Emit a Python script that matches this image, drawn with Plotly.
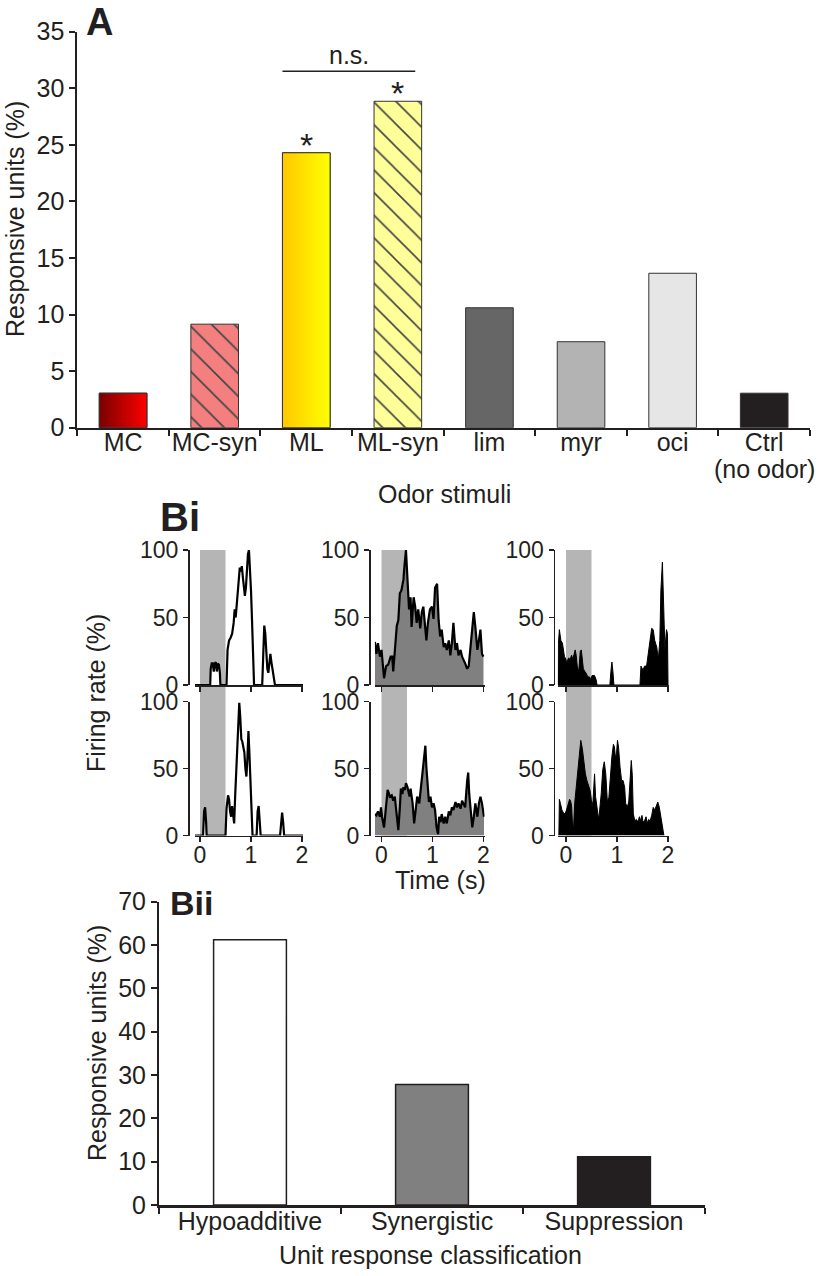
import plotly.graph_objects as go

W, H = 828, 1276
INK = "#231f20"
FONT = "Liberation Sans, Arial, Helvetica, sans-serif"


def px_x(p):
    return p / W


def px_y(p):
    return 1 - p / H


# ---------------- Panel A data ----------------
odor_categories = ["MC", "MC-syn", "ML", "ML-syn", "lim", "myr", "oci", "Ctrl"]
odor_responsive_pct = [3.05, 9.15, 24.3, 28.85, 10.6, 7.6, 13.65, 3.05]
odor_colors = ["#c00000", "#f47f7f", "#ffe000", "#ffff99", "#666666", "#b3b3b3", "#e6e6e6", "#231f20"]
odor_patterns = ["", "\\", "", "\\", "", "", "", ""]
gradient_bars = {"MC": ["#7a0000", "#ff0000"], "ML": ["#ffc800", "#ffff00"]}
significant_odors = ["ML", "ML-syn"]
ns_pair = ["ML", "ML-syn"]

# ---------------- Panel Bi data (time s, firing rate %) ----------------
hypo_top = [(-0.10, 0), (0.20, 0), (0.21, 12), (0.23, 16), (0.25, 16), (0.27, 10), (0.29, 16), (0.31, 17),
            (0.33, 10), (0.35, 16), (0.37, 15), (0.39, 9), (0.40, 0), (0.52, 0), (0.54, 26), (0.57, 33),
            (0.60, 35), (0.63, 38), (0.66, 46), (0.68, 56), (0.70, 50), (0.72, 60), (0.74, 68), (0.76, 78),
            (0.78, 87), (0.80, 84), (0.82, 88), (0.84, 80), (0.86, 70), (0.88, 66), (0.90, 72), (0.92, 88),
            (0.94, 97), (0.96, 100), (0.98, 88), (1.00, 70), (1.02, 48), (1.04, 25), (1.06, 0), (1.22, 0),
            (1.24, 30), (1.26, 44), (1.28, 38), (1.30, 26), (1.32, 12), (1.34, 9), (1.36, 20), (1.38, 23),
            (1.40, 17), (1.42, 12), (1.45, 5), (1.47, 0), (2.02, 0)]
hypo_bottom = [(-0.10, 0), (0.06, 0), (0.08, 18), (0.10, 21), (0.12, 10), (0.13, 0), (0.50, 0), (0.52, 20),
               (0.55, 30), (0.57, 27), (0.59, 18), (0.61, 14), (0.63, 22), (0.65, 12), (0.67, 9), (0.69, 30),
               (0.71, 50), (0.73, 66), (0.75, 85), (0.77, 99), (0.79, 88), (0.81, 72), (0.83, 70), (0.85, 64),
               (0.87, 62), (0.89, 50), (0.91, 44), (0.93, 58), (0.95, 78), (0.97, 60), (0.99, 35), (1.01, 15),
               (1.03, 0), (1.11, 0), (1.13, 18), (1.15, 22), (1.17, 10), (1.19, 0), (1.57, 0), (1.59, 13),
               (1.61, 17), (1.63, 10), (1.65, 0), (2.02, 0)]
syn_top = [(-0.13, 32), (-0.10, 23), (-0.07, 31), (-0.03, 21), (0.00, 26), (0.03, 11), (0.05, 5), (0.09, 14),
           (0.13, 15), (0.18, 21), (0.21, 21), (0.23, 10), (0.26, 26), (0.30, 44), (0.33, 48), (0.36, 68),
           (0.39, 70), (0.43, 78), (0.45, 88), (0.48, 100), (0.51, 78), (0.54, 56), (0.57, 65), (0.59, 43),
           (0.63, 65), (0.66, 58), (0.69, 46), (0.72, 56), (0.76, 42), (0.79, 54), (0.82, 58), (0.84, 49),
           (0.88, 33), (0.91, 46), (0.95, 56), (0.99, 58), (1.02, 49), (1.05, 72), (1.09, 75), (1.12, 48),
           (1.15, 36), (1.18, 41), (1.22, 28), (1.25, 31), (1.28, 26), (1.32, 33), (1.35, 22), (1.38, 31),
           (1.41, 46), (1.45, 26), (1.48, 31), (1.51, 22), (1.55, 26), (1.58, 21), (1.61, 19), (1.64, 16),
           (1.68, 12), (1.71, 14), (1.74, 26), (1.78, 43), (1.81, 54), (1.84, 43), (1.88, 26), (1.91, 33),
           (1.94, 41), (1.97, 23), (2.00, 21)]
syn_bottom = [(-0.13, 16), (-0.10, 15), (-0.07, 18), (-0.03, 14), (-0.01, 21), (0.01, 14), (0.05, 6),
              (0.08, 21), (0.12, 34), (0.14, 32), (0.16, 29), (0.20, 30), (0.23, 26), (0.26, 29), (0.30, 14),
              (0.33, 4), (0.36, 21), (0.38, 35), (0.41, 31), (0.43, 36), (0.46, 34), (0.48, 39), (0.51, 36),
              (0.55, 29), (0.57, 35), (0.61, 24), (0.64, 9), (0.67, 21), (0.70, 29), (0.74, 24), (0.77, 36),
              (0.80, 46), (0.83, 59), (0.86, 67), (0.88, 51), (0.91, 29), (0.93, 25), (0.96, 29), (0.99, 21),
              (1.02, 24), (1.05, 19), (1.08, 6), (1.11, 1), (1.13, 14), (1.16, 10), (1.18, 16), (1.22, 9),
              (1.25, 14), (1.28, 9), (1.32, 18), (1.35, 15), (1.38, 21), (1.41, 19), (1.45, 25), (1.48, 21),
              (1.51, 24), (1.55, 20), (1.58, 26), (1.61, 24), (1.64, 21), (1.68, 41), (1.70, 47), (1.72, 31),
              (1.75, 19), (1.78, 6), (1.81, 14), (1.84, 24), (1.88, 14), (1.91, 24), (1.94, 29), (1.97, 24),
              (2.01, 14)]
supp_top = [(-0.16, 0), (-0.15, 30), (-0.13, 41), (-0.10, 33), (-0.07, 31), (-0.03, 21), (0.00, 19),
            (0.01, 16), (0.05, 20), (0.08, 19), (0.11, 22), (0.13, 19), (0.16, 23), (0.18, 26), (0.20, 22),
            (0.22, 14), (0.25, 10), (0.28, 25), (0.30, 26), (0.32, 19), (0.34, 12), (0.37, 10), (0.39, 9),
            (0.43, 6), (0.46, 6), (0.49, 4), (0.51, 7), (0.56, 7), (0.59, 4), (0.61, 0), (0.86, 0),
            (0.88, 10), (0.90, 17), (0.92, 10), (0.94, 0), (1.45, 0), (1.47, 14), (1.51, 11), (1.54, 14),
            (1.58, 14), (1.61, 23), (1.64, 33), (1.68, 42), (1.71, 41), (1.74, 33), (1.78, 28), (1.81, 19),
            (1.84, 33), (1.86, 70), (1.89, 91), (1.91, 70), (1.94, 26), (1.97, 41), (1.99, 38), (2.00, 0)]
supp_bottom = [(-0.14, 0), (-0.13, 27), (-0.11, 24), (-0.08, 19), (-0.05, 17), (-0.02, 16), (0.01, 19),
               (0.04, 24), (0.07, 27), (0.09, 26), (0.11, 22), (0.13, 6), (0.15, 7), (0.17, 24), (0.20, 36),
               (0.23, 51), (0.26, 64), (0.29, 71), (0.32, 65), (0.35, 54), (0.38, 46), (0.41, 41), (0.44, 37),
               (0.47, 34), (0.49, 29), (0.51, 21), (0.53, 26), (0.56, 46), (0.58, 29), (0.61, 21), (0.64, 12),
               (0.66, 19), (0.69, 31), (0.72, 49), (0.75, 55), (0.78, 46), (0.81, 26), (0.84, 28), (0.87, 44),
               (0.90, 59), (0.93, 68), (0.95, 66), (0.97, 58), (0.99, 61), (1.01, 71), (1.03, 66), (1.06, 51),
               (1.09, 41), (1.12, 41), (1.15, 36), (1.17, 24), (1.20, 21), (1.23, 25), (1.25, 35), (1.28, 56),
               (1.30, 45), (1.32, 16), (1.35, 11), (1.38, 12), (1.41, 10), (1.44, 14), (1.46, 11), (1.49, 15),
               (1.51, 10), (1.54, 11), (1.57, 14), (1.59, 9), (1.62, 12), (1.65, 11), (1.68, 15), (1.71, 21),
               (1.74, 19), (1.77, 22), (1.80, 25), (1.83, 21), (1.86, 14), (1.89, 5), (1.92, 0)]
stimulus_window = [0.0, 0.5]
time_ticks = [0, 1, 2]
rate_ticks = [0, 50, 100]

# ---------------- Panel Bii data ----------------
class_categories = ["Hypoadditive", "Synergistic", "Suppression"]
class_responsive_pct = [61.2, 27.8, 11.15]
class_colors = ["#ffffff", "#808080", "#231f20"]

fig = go.Figure()
annotations = []
shapes = []

# ---------------- Panel A ----------------
BAR_W = 0.52
xi = list(range(len(odor_categories)))
fig.add_trace(go.Bar(
    x=xi, y=odor_responsive_pct, width=BAR_W,
    marker=dict(color=odor_colors, line=dict(color="#333333", width=1),
                pattern=dict(shape=odor_patterns, fillmode="overlay", fgcolor="#000000", fgopacity=1,
                             bgcolor=odor_colors, size=16, solidity=0.1)),
    xaxis="x", yaxis="y", hoverinfo="skip", showlegend=False))
for cat, (c0, c1) in gradient_bars.items():
    i = odor_categories.index(cat)
    v = odor_responsive_pct[i]
    fig.add_trace(go.Scatter(
        x=[i - BAR_W / 2, i + BAR_W / 2, i + BAR_W / 2, i - BAR_W / 2, i - BAR_W / 2],
        y=[0, 0, v, v, 0], mode="lines", fill="toself",
        fillgradient=dict(type="horizontal", colorscale=[[0, c0], [1, c1]]),
        line=dict(color="#333333", width=1), xaxis="x", yaxis="y",
        hoverinfo="skip", showlegend=False))

axis_common = dict(showgrid=False, zeroline=False, linecolor=INK, tickcolor=INK, automargin=False,
                   tickfont=dict(size=25, color=INK, family=FONT), fixedrange=True)
layout_axes = {}
layout_axes["xaxis"] = dict(axis_common, domain=[px_x(77.3), px_x(810)], range=[-0.5, 7.5], anchor="y",
                            tickmode="array", tickvals=xi, ticktext=odor_categories, ticks="",
                            ticklabelstandoff=-9, showline=True, linewidth=2,
                            minor=dict(tickmode="array", tickvals=[k - 0.5 for k in range(9)],
                                       ticks="outside", ticklen=6, tickwidth=2, tickcolor=INK))
layout_axes["yaxis"] = dict(axis_common, domain=[px_y(427.7), px_y(31.7)], range=[0, 35], anchor="x",
                            tickmode="linear", tick0=0, dtick=5, ticks="outside", ticklen=6, tickwidth=2,
                            showline=True, linewidth=2)

# significance
for cat in significant_odors:
    i = odor_categories.index(cat)
    annotations.append(dict(x=i, y=odor_responsive_pct[i], xref="x", yref="y", text="*",
                            showarrow=False, yanchor="bottom", yshift=-13,
                            font=dict(size=34, color=INK, family=FONT)))
i0 = odor_categories.index(ns_pair[0])
i1 = odor_categories.index(ns_pair[1])
ns_y = 31.5
shapes.append(dict(type="line", xref="x", yref="y", x0=i0 - BAR_W / 2, x1=i1 + 0.19, y0=ns_y, y1=ns_y,
                   line=dict(color=INK, width=1.5)))
annotations.append(dict(x=(i0 + i1) / 2 - 0.03, y=ns_y, xref="x", yref="y", text="n.s.", showarrow=False,
                        yanchor="bottom", yshift=0, font=dict(size=25, color=INK, family=FONT)))
annotations.append(dict(x=odor_categories.index("Ctrl"), y=px_y(469), xref="x", yref="paper",
                        text="(no odor)", showarrow=False, font=dict(size=25, color=INK, family=FONT)))

# ---------------- Panel Bi ----------------
PX_PER_S = 51.0
T_MAX = 2.02
columns = [
    dict(axis_px=188.0, zero_px=200.0, tmin=-0.10, fill="#ffffff", line="#000000", lw=2.2, data=[hypo_top, hypo_bottom]),
    dict(axis_px=369.0, zero_px=381.5, tmin=-0.13, fill="#808080", line="#000000", lw=2.2, data=[syn_top, syn_bottom]),
    dict(axis_px=553.5, zero_px=566.0, tmin=-0.16, fill="#000000", line="#000000", lw=1, data=[supp_top, supp_bottom]),
]
rows = [dict(zero_px=685.0, top_px=550.0), dict(zero_px=835.5, top_px=701.5)]
bi_font = dict(size=23, color=INK, family=FONT)

for c, col in enumerate(columns):
    xdom = [px_x(col["zero_px"] + col["tmin"] * PX_PER_S), px_x(col["zero_px"] + T_MAX * PX_PER_S)]
    for r, row in enumerate(rows):
        idx = 2 + c * 2 + r
        xa, ya = f"x{idx}", f"y{idx}"
        pts = col["data"][r]
        fig.add_trace(go.Scatter(
            x=[p[0] for p in pts], y=[p[1] for p in pts], mode="lines", fill="tozeroy",
            fillcolor=col["fill"], line=dict(color=col["line"], width=col["lw"]),
            xaxis=xa, yaxis=ya, hoverinfo="skip", showlegend=False))
        layout_axes[f"xaxis{idx}"] = dict(axis_common, domain=xdom, range=[col["tmin"], T_MAX], anchor=ya,
                                          tickmode="array", tickvals=time_ticks, ticks="outside", ticklen=5,
                                          tickwidth=1.5, showline=True, linewidth=1.5, tickfont=bi_font,
                                          ticklabelstandoff=-7, showticklabels=(r == 1))
        layout_axes[f"yaxis{idx}"] = dict(axis_common, domain=[px_y(row["zero_px"]), px_y(row["top_px"])],
                                          range=[0, 100], anchor="free", position=px_x(col["axis_px"]),
                                          tickmode="array", tickvals=rate_ticks, ticks="outside", ticklen=5,
                                          tickwidth=1.5, showline=True, linewidth=1.5, tickfont=bi_font)
    shapes.append(dict(type="rect", xref=f"x{2 + c * 2}", yref="paper",
                       x0=stimulus_window[0], x1=stimulus_window[1],
                       y0=px_y(rows[1]["zero_px"]), y1=px_y(rows[0]["top_px"]),
                       fillcolor="#b5b5b5", line=dict(width=0), layer="below"))

# ---------------- Panel Bii ----------------
ci = list(range(len(class_categories)))
fig.add_trace(go.Bar(
    x=ci, y=class_responsive_pct, width=0.4,
    marker=dict(color=class_colors, line=dict(color=INK, width=1.5)),
    xaxis="x8", yaxis="y8", hoverinfo="skip", showlegend=False))
layout_axes["xaxis8"] = dict(axis_common, domain=[px_x(159), px_x(705)], range=[-0.5, 2.5], anchor="y8",
                             tickmode="array", tickvals=ci, ticktext=class_categories, ticks="",
                             ticklabelstandoff=-8, showline=True, linewidth=3,
                             minor=dict(tickmode="array", tickvals=[k - 0.5 for k in range(4)],
                                        ticks="outside", ticklen=6, tickwidth=2, tickcolor=INK))
layout_axes["yaxis8"] = dict(axis_common, domain=[px_y(1205), px_y(901.7)], range=[0, 70], anchor="x8",
                             tickmode="linear", tick0=0, dtick=10, ticks="outside", ticklen=6, tickwidth=2,
                             showline=True, linewidth=2)

# ---------------- Text labels ----------------
def label(text, xp, yp, size=25, angle=0, bold=False):
    annotations.append(dict(x=px_x(xp), y=px_y(yp), xref="paper", yref="paper",
                            text=f"<b>{text}</b>" if bold else text, showarrow=False,
                            xanchor="center", yanchor="middle", textangle=angle,
                            font=dict(size=size, color=INK, family=FONT)))

label("A", 99, 22, size=38, bold=True)
label("Responsive units (%)", 15, 219, angle=-90)
label("Odor stimuli", 444, 494)
label("Bi", 180, 517, size=40, bold=True)
label("Firing rate (%)", 96, 693, angle=-90)
label("Time (s)", 440, 880)
label("Bii", 191, 903, size=34, bold=True)
label("Responsive units (%)", 97, 1043, angle=-90)
label("Unit response classification", 430, 1255)

fig.update_layout(
    template="none",
    width=W, height=H, margin=dict(l=0, r=0, t=0, b=0, pad=0), autosize=False,
    paper_bgcolor="white", plot_bgcolor="white",
    font=dict(family=FONT, color=INK, size=25),
    showlegend=False, bargap=0, barmode="overlay",
    annotations=annotations, shapes=shapes,
    **layout_axes,
)

fig.write_html("out.html", config={"displayModeBar": False, "staticPlot": True},
               post_script="document.body.style.margin='0px';document.body.style.overflow='hidden';")
